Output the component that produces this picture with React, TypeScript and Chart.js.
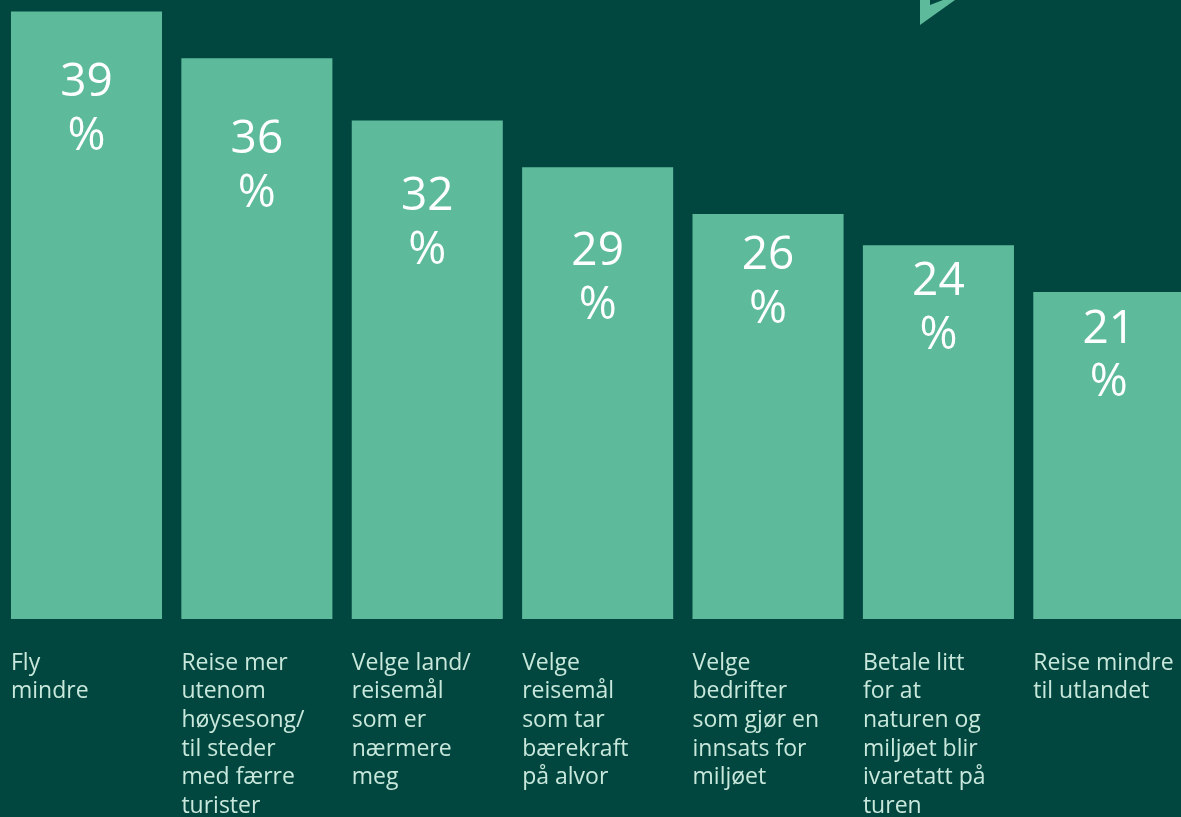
import React, { useEffect, useRef } from "react";
import { Chart, registerables } from "chart.js";

Chart.register(...registerables);

// ---- data ----
const categories: string[][] = [
  ["Fly", "mindre"],
  ["Reise mer", "utenom", "høysesong/", "til steder", "med færre", "turister"],
  ["Velge land/", "reisemål", "som er", "nærmere", "meg"],
  ["Velge", "reisemål", "som tar", "bærekraft", "på alvor"],
  ["Velge", "bedrifter", "som gjør en", "innsats for", "miljøet"],
  ["Betale litt", "for at", "naturen og", "miljøet blir", "ivaretatt på", "turen"],
  ["Reise mindre", "til utlandet"],
];
const values: number[] = [39, 36, 32, 29, 26, 24, 21];
const valueSuffix = "%";
const yMin = 0;
const yMax = 40;

// ---- styles ----
const BG = "#01473f";
const BAR = "#5dbb9c";
const LABEL = "#c9e8dc";
const FONT = '"Open Sans", "Noto Sans", sans-serif';
// distance (px) from bar top to the baseline of the number line, per bar
const valueLabelBaselines: number[] = [84.5, 95, 89.5, 98, 55, 50, 51];
const valueLineGap = 53.5;

const valueLabelPlugin = {
  id: "valueLabels",
  afterDatasetsDraw(chart: any) {
    const ctx = chart.ctx;
    const meta = chart.getDatasetMeta(0);
    ctx.save();
    ctx.fillStyle = "#ffffff";
    ctx.font = `400 46px ${FONT}`;
    ctx.textAlign = "center";
    ctx.textBaseline = "alphabetic";
    meta.data.forEach((el: any, i: number) => {
      const v = chart.data.datasets[0].data[i];
      const base = el.y + valueLabelBaselines[i];
      ctx.fillText(String(v), el.x, base);
      ctx.fillText(valueSuffix, el.x, base + valueLineGap);
    });
    ctx.restore();
  },
};

export default function App() {
  const ref = useRef<HTMLCanvasElement | null>(null);

  useEffect(() => {
    if (!ref.current) return;
    const chart = new Chart(ref.current, {
      type: "bar",
      data: {
        labels: categories,
        datasets: [
          {
            data: values,
            backgroundColor: BAR,
            borderWidth: 0,
            categoryPercentage: 1,
            barPercentage: 0.8865,
          },
        ],
      },
      options: {
        responsive: false,
        animation: false,
        devicePixelRatio: 1,
        layout: { padding: { left: 1.3, right: 0, top: 0, bottom: 0 } },
        plugins: {
          legend: { display: false },
          tooltip: { enabled: false },
          title: { display: false },
        },
        scales: {
          x: {
            grid: { display: false, drawTicks: false },
            border: { display: false },
            ticks: {
              autoSkip: false,
              maxRotation: 0,
              minRotation: 0,
              align: "start",
              labelOffset: -75.5,
              padding: 30,
              color: LABEL,
              font: { family: FONT, size: 23, weight: "500", lineHeight: 28.6 / 23 },
            },
            afterFit: (scale: any) => {
              scale.height = 198;
              scale.paddingLeft = 0;
              scale.paddingRight = 0;
            },
          },
          y: {
            display: false,
            min: yMin,
            max: yMax,
          },
        },
      },
      plugins: [valueLabelPlugin],
    } as any);
    return () => chart.destroy();
  }, []);

  return (
    <div
      style={{
        position: "fixed",
        left: 0,
        top: 0,
        width: 1181,
        height: 817,
        overflow: "hidden",
        background: BG,
      }}
    >
      <canvas
        ref={ref}
        width={1194}
        height={821}
        style={{ position: "absolute", left: 0, top: -4, width: 1194, height: 821 }}
      />
      <svg
        width={60}
        height={30}
        style={{ position: "absolute", left: 910, top: 0 }}
      >
        <polygon points="10,0 45,0 10,25" fill={BAR} />
        <polygon points="20,0 33,0 20,5" fill={BG} />
      </svg>
    </div>
  );
}
